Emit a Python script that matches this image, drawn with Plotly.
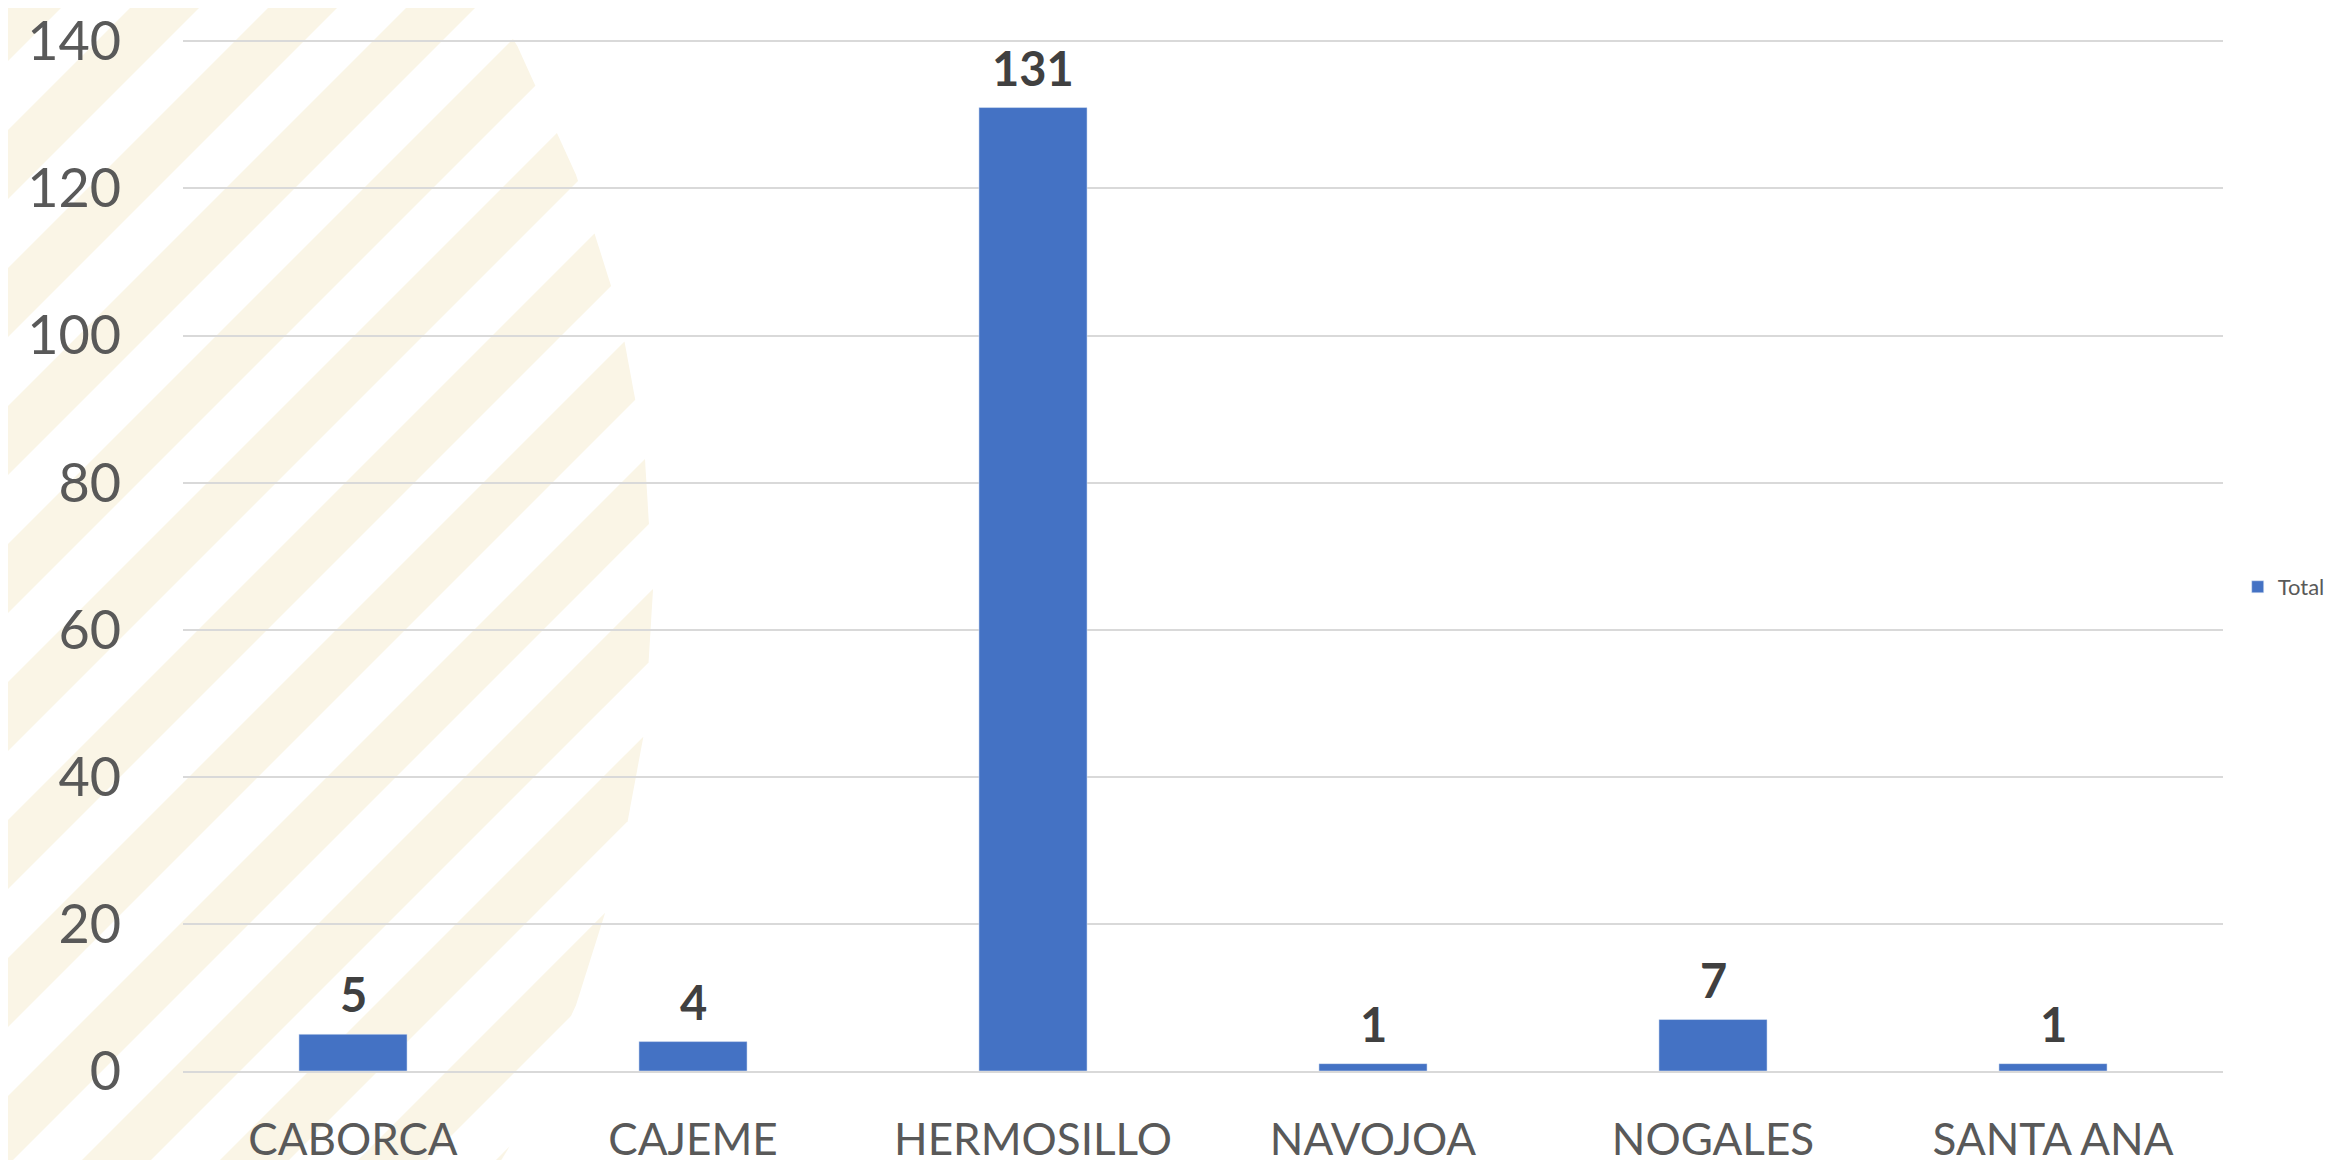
import math
import plotly.graph_objects as go

municipios = ['CABORCA', 'CAJEME', 'HERMOSILLO', 'NAVOJOA', 'NOGALES', 'SANTA ANA']
totales = [5, 4, 131, 1, 7, 1]
serie = 'Total'
y_ticks = [0, 20, 40, 60, 80, 100, 120, 140]

W_PX, H_PX = 2336, 1160
PAGE = 8  # browser body margin around the figure
L, R, T, B = 175, 121, 26, 97
PW, PH = W_PX - L - R, H_PX - T - B


def to_paper(px, py):
    # px, py in screen pixels
    return (px - PAGE - L) / PW, 1 - (py - PAGE - T) / PH


def clip(subject, clipper):
    # Sutherland-Hodgman, both convex
    out = subject
    n = len(clipper)
    area = sum(clipper[i][0] * clipper[(i + 1) % n][1] - clipper[(i + 1) % n][0] * clipper[i][1] for i in range(n))
    sign = 1 if area > 0 else -1
    for i in range(n):
        a, b = clipper[i], clipper[(i + 1) % n]

        def inside(p):
            return sign * ((b[0] - a[0]) * (p[1] - a[1]) - (b[1] - a[1]) * (p[0] - a[0])) >= 0

        def inter(p, q):
            x1, y1 = p; x2, y2 = q; x3, y3 = a; x4, y4 = b
            d = (x1 - x2) * (y3 - y4) - (y1 - y2) * (x3 - x4)
            t = ((x1 - x3) * (y3 - y4) - (y1 - y3) * (x3 - x4)) / d
            return (x1 + t * (x2 - x1), y1 + t * (y2 - y1))

        inp, out = out, []
        if not inp:
            break
        prev = inp[-1]
        for cur in inp:
            if inside(cur):
                if not inside(prev):
                    out.append(inter(prev, cur))
                out.append(cur)
            elif inside(prev):
                out.append(inter(prev, cur))
            prev = cur
    return out


# decorative striped disc behind the chart (screen pixels)
cx, cy, rad = -505, 590, 1158
disc = [(cx + rad * math.cos(math.radians(a)), cy + rad * math.sin(math.radians(a)))
        for a in range(-84, 85, 7)]
disc.append((cx, cy + rad))
disc.append((cx - 10, cy))
period, band = 138, 69
shapes = []
for k in range(-2, 20):
    u0 = k * period
    u1 = u0 + band
    y_top, y_bot = -50, H_PX + 50
    quad = [(u0 - y_top, y_top), (u1 - y_top, y_top), (u1 - y_bot, y_bot), (u0 - y_bot, y_bot)]
    poly = clip(quad, disc)
    if len(poly) < 3:
        continue
    pts = [to_paper(px, py) for px, py in poly]
    path = 'M ' + ' L '.join(f'{x:.5f},{y:.5f}' for x, y in pts) + ' Z'
    shapes.append(dict(type='path', path=path, xref='paper', yref='paper',
                       fillcolor='#FAF5E6', line=dict(width=0), layer='below'))

fig = go.Figure()
fig.add_trace(go.Bar(x=municipios, y=totales, name=serie, marker_color='#4472C4',
                     showlegend=True))

for m, v in zip(municipios, totales):
    fig.add_annotation(x=m, y=v, text=f'<b>{v}</b>', showarrow=False, yanchor='bottom',
                       yshift=10, font=dict(family='Lato', size=47, color='#404040'))

fig.update_layout(
    width=W_PX, height=H_PX,
    margin=dict(l=L, r=R, t=T, b=B),
    paper_bgcolor='white', plot_bgcolor='rgba(0,0,0,0)',
    bargap=0.682,
    shapes=shapes,
    font=dict(family='Lato', color='#595959'),
    legend=dict(xref='container', yref='container', x=0.9545, y=0.5009,
                xanchor='left', yanchor='middle',
                font=dict(size=22, color='#595959'), bgcolor='rgba(0,0,0,0)'),
)
fig.update_yaxes(range=[0, 141], tickvals=y_ticks, showgrid=True, gridcolor='#D9D9D9',
                 gridwidth=2, zeroline=False, showline=False, ticks='outside',
                 ticklen=50, tickcolor='rgba(0,0,0,0)', automargin=False,
                 ticklabeloverflow='allow',
                 tickfont=dict(size=54, color='#595959'))
fig.update_xaxes(showgrid=False, showline=True, linecolor='#D9D9D9', linewidth=2,
                 ticks='outside', ticklen=29, tickcolor='rgba(0,0,0,0)', automargin=False,
                 ticklabeloverflow='allow',
                 tickfont=dict(size=44, color='#595959'))

fig.write_html('out.html')
